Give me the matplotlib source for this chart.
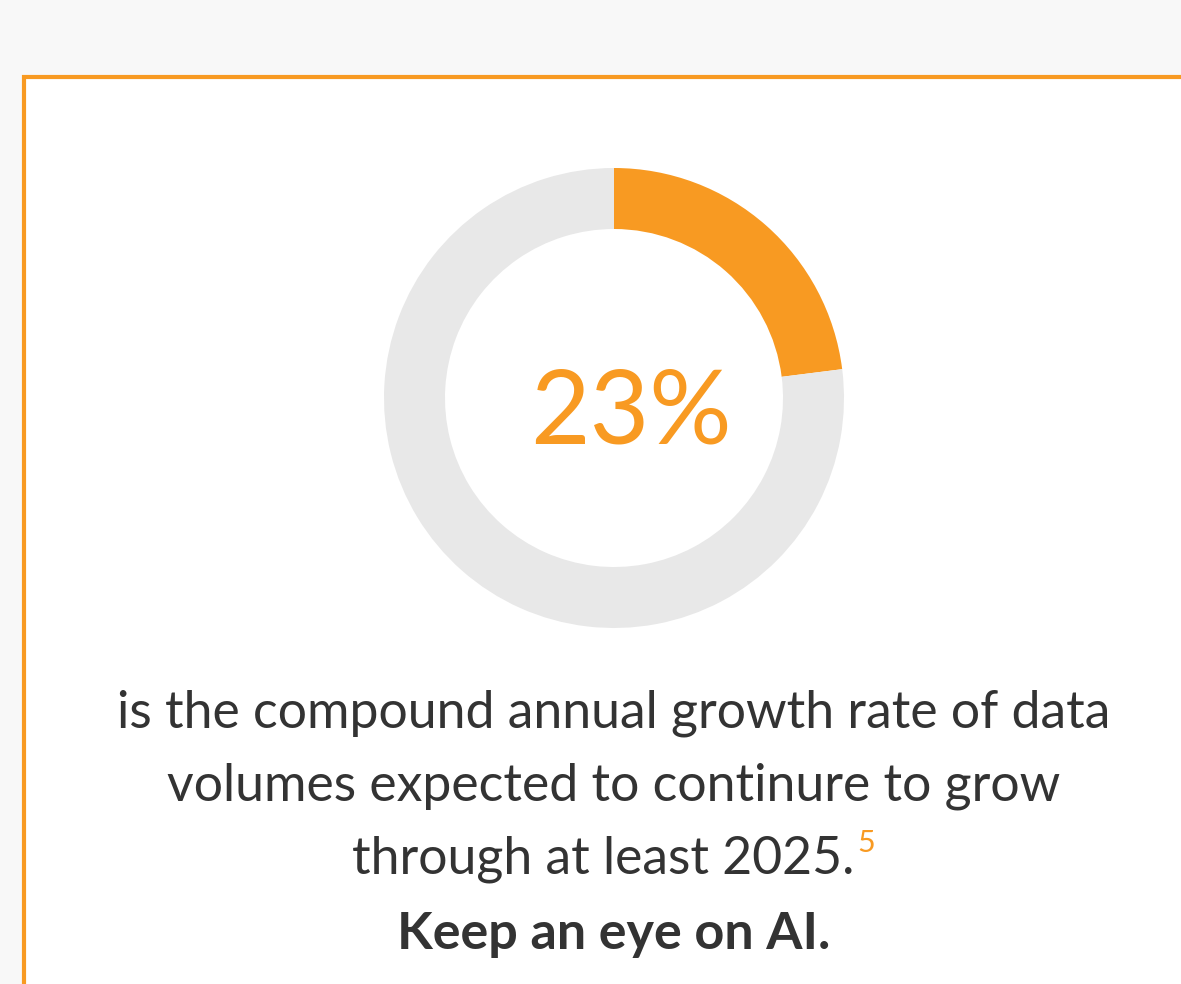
import matplotlib
matplotlib.use("Agg")
import matplotlib.pyplot as plt
from matplotlib.patches import Rectangle

# Data
values = [23, 77]
value_label = "23%"
body_lines = ["is the compound annual growth rate of data",
              "volumes expected to continure to grow",
              "through at least 2025."]
footnote = "5"
headline = "Keep an eye on AI."

ORANGE = "#F89A22"
GRAY = "#E8E8E8"
TEXT = "#333333"

W, H = 1181, 984
fig = plt.figure(figsize=(W / 100, H / 100), dpi=100, facecolor="#F8F8F8")
ax = fig.add_axes([0, 0, 1, 1])
ax.set_facecolor("#F8F8F8")

# Orange bordered white card
ax.add_patch(Rectangle((24, -10), 1300, (H - 77) + 10, facecolor="white",
                       edgecolor=ORANGE, linewidth=3.0, zorder=0))

cx, cy = 614, H - 398
ax.pie(values, colors=[ORANGE, GRAY], startangle=90, counterclock=False,
       radius=230, center=(cx, cy), wedgeprops=dict(width=61, linewidth=0),
       frame=True)
ax.set_xlim(0, W)
ax.set_ylim(0, H)
ax.set_aspect("equal")
ax.axis("off")

ax.text(631, H - 414, value_label, color=ORANGE, fontsize=74, fontfamily="Lato",
        fontweight="normal", ha="center", va="center")

ys = [713, 786, 859]
xs = [614, 614, 603]
last = None
for t, x, y in zip(body_lines, xs, ys):
    last = ax.text(x, H - y, t, color=TEXT, fontsize=37.3, fontfamily="Lato",
                   ha="center", va="center")
fig.canvas.draw()
bb = last.get_window_extent(fig.canvas.get_renderer())
ax.text(bb.x1 + 3, H - 843, footnote, color=ORANGE, fontsize=22, fontfamily="Lato",
        ha="left", va="center")
ax.text(614, H - 934, headline, color=TEXT, fontsize=37.5, fontfamily="Lato",
        fontweight="bold", ha="center", va="center")

fig.savefig("out.png", dpi=100, facecolor=fig.get_facecolor())
